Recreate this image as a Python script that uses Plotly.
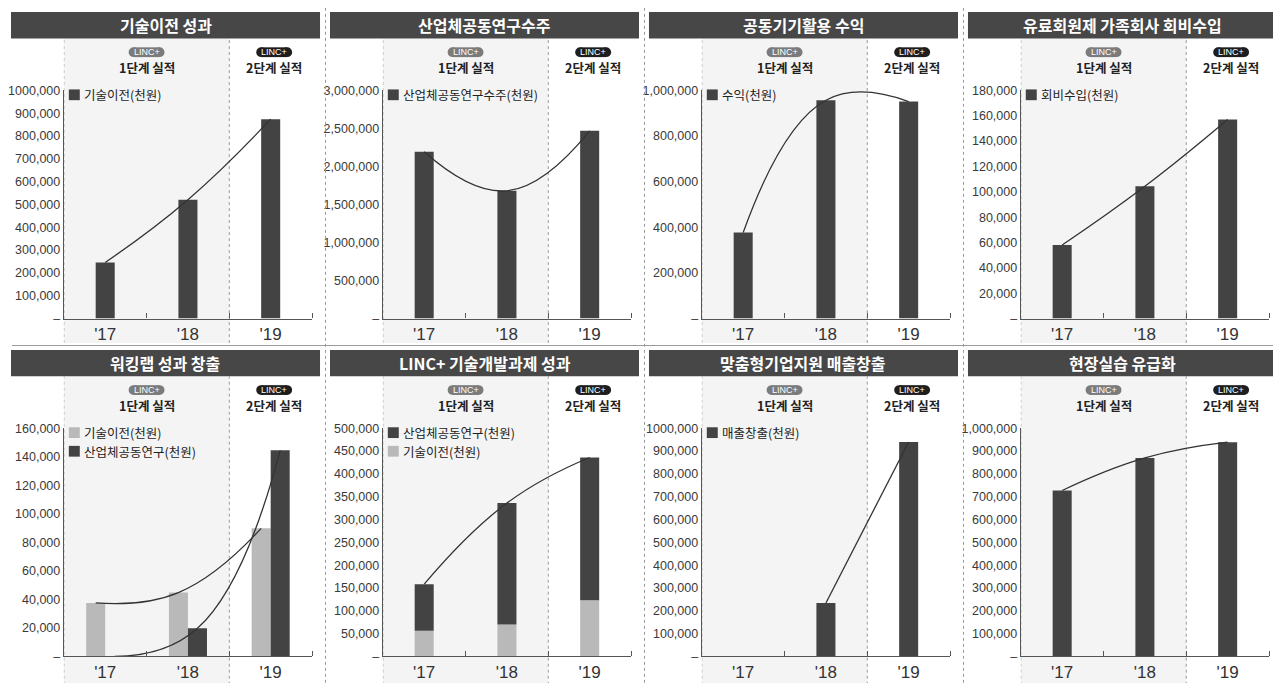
import plotly.graph_objects as go

# the page body keeps its 8px margin, so the figure fills the rest of the window
# and everything below is laid out in window pixels
WIN_W, WIN_H = 1281, 691
OFF = 8
W, H = WIN_W - 2 * OFF, WIN_H - 2 * OFF

YEARS = ["'17", "'18", "'19"]

TITLES = [
    "기술이전 성과",
    "산업체공동연구수주",
    "공동기기활용 수익",
    "유료회원제 가족회사 회비수입",
    "워킹랩 성과 창출",
    "LINC+ 기술개발과제 성과",
    "맞춤형기업지원 매출창출",
    "현장실습 유급화",
]

# values (천원)
tech_transfer = [246000, 521000, 874000]
joint_research_orders = [2194000, 1680000, 2468000]
equipment_income = [377000, 957000, 951000]
member_fees = [58100, 104400, 157100]
workinglab_transfer = [37500, 44800, 89800]
workinglab_research = [0, 19700, 144500]
linc_transfer = [56400, 70000, 122900]
linc_research = [102000, 266000, 313000]
custom_sales = [None, 234000, 940000]
field_training = [727000, 870000, 939000]

Y_MAX = [1000000, 3000000, 1000000, 180000, 160000, 500000, 1000000, 1000000]
Y_STEP = [100000, 500000, 200000, 20000, 20000, 50000, 100000, 100000]
Y_TOP_LABEL = ["1000,000", None, None, None, None, None, "1000,000", None]

DARK = "#434343"
LIGHT = "#b9b9b9"
LINE = "#333333"
AXIS = "#555555"
SHADE = "#f4f4f4"
BAR_W = 0.23

KR = "Noto Sans CJK KR"
NUM = "Liberation Sans, Arial, sans-serif"

# series per panel: (legend name, values, colour)
PANELS = [
    dict(mode="single", series=[("기술이전(천원)", tech_transfer, DARK)]),
    dict(mode="single", series=[("산업체공동연구수주(천원)", joint_research_orders, DARK)]),
    dict(mode="single", series=[("수익(천원)", equipment_income, DARK)]),
    dict(mode="single", series=[("회비수입(천원)", member_fees, DARK)]),
    dict(mode="group", series=[("기술이전(천원)", workinglab_transfer, LIGHT),
                               ("산업체공동연구(천원)", workinglab_research, DARK)]),
    dict(mode="stack", series=[("산업체공동연구(천원)", linc_research, DARK),
                               ("기술이전(천원)", linc_transfer, LIGHT)]),
    dict(mode="single", series=[("매출창출(천원)", custom_sales, DARK)]),
    dict(mode="single", series=[], bars=[field_training]),
]


def px(x):
    return (x - OFF) / W


def py(y):
    return 1 - (y - OFF) / H


fig = go.Figure()
shapes = []
annotations = []
spline = dict(shape="spline", smoothing=1.3, color=LINE, width=1.3)
idx = [0, 1, 2]

for i, panel in enumerate(PANELS):
    r, c = divmod(i, 4)
    xo, yo = 320 * c, 345 * r
    n = "" if i == 0 else str(i + 1)
    xa, ya = "x" + n, "y" + n

    if panel["mode"] == "single":
        vals = panel["series"][0][1] if panel["series"] else panel["bars"][0]
        fig.add_trace(go.Bar(x=idx, y=vals, width=BAR_W, offset=-BAR_W / 2,
                             marker=dict(color=DARK, line_width=0),
                             xaxis=xa, yaxis=ya, showlegend=False))
        fig.add_trace(go.Scatter(x=idx, y=vals, mode="lines", line=spline,
                                 xaxis=xa, yaxis=ya, showlegend=False,
                                 hoverinfo="skip"))
    elif panel["mode"] == "group":
        for k, (name, vals, col) in enumerate(panel["series"]):
            off = -BAR_W if k == 0 else 0
            fig.add_trace(go.Bar(x=idx, y=vals, width=BAR_W, offset=off,
                                 marker=dict(color=col, line_width=0), name=name,
                                 xaxis=xa, yaxis=ya, showlegend=False))
            fig.add_trace(go.Scatter(x=[v + off + BAR_W / 2 for v in idx], y=vals,
                                     mode="lines", line=spline, xaxis=xa, yaxis=ya,
                                     showlegend=False, hoverinfo="skip"))
    else:
        top_name, top_vals, top_col = panel["series"][0]
        bot_name, bot_vals, bot_col = panel["series"][1]
        fig.add_trace(go.Bar(x=idx, y=bot_vals, width=BAR_W, offset=-BAR_W / 2,
                             marker=dict(color=bot_col, line_width=0), name=bot_name,
                             xaxis=xa, yaxis=ya, showlegend=False))
        fig.add_trace(go.Bar(x=idx, y=top_vals, base=bot_vals, width=BAR_W,
                             offset=-BAR_W / 2, marker=dict(color=top_col, line_width=0),
                             name=top_name, xaxis=xa, yaxis=ya, showlegend=False))
        totals = [a + b for a, b in zip(bot_vals, top_vals)]
        fig.add_trace(go.Scatter(x=idx, y=totals, mode="lines", line=spline,
                                 xaxis=xa, yaxis=ya, showlegend=False,
                                 hoverinfo="skip"))

    # axes
    ticks = list(range(0, Y_MAX[i] + 1, Y_STEP[i]))
    labels = ["–" if v == 0 else f"{v:,}" for v in ticks]
    if Y_TOP_LABEL[i]:
        labels[-1] = Y_TOP_LABEL[i]

    fig.update_layout(**{
        "xaxis" + n: dict(
            domain=[px(xo + 60), px(xo + 309)], anchor=ya, range=[-0.5, 2.5],
            tickvals=idx, ticktext=YEARS, ticks="", showgrid=False, zeroline=False,
            showline=True, linecolor=AXIS, linewidth=1.2,
            tickfont=dict(family=NUM, size=17, color="#333"),
            minor=dict(tick0=0.5, dtick=1, ticks="inside", ticklen=5,
                       tickcolor=AXIS, tickwidth=1.2, showgrid=False),
            fixedrange=True,
        ),
        "yaxis" + n: dict(
            domain=[py(yo + 318), py(yo + 85)], anchor=xa, range=[0, Y_MAX[i]],
            tickvals=ticks, ticktext=labels, ticks="", showgrid=False, zeroline=False,
            showline=True, linecolor=AXIS, linewidth=1.2,
            tickfont=dict(family=NUM, size=12.5, color="#3a3a3a"),
            fixedrange=True,
        ),
    })

    bottom = yo + (343 if r == 0 else 690)
    # 1단계 shaded band and dotted dividers
    shapes.append(dict(type="rect", xref=xa, yref="paper", x0=-0.5, x1=1.5,
                       y0=py(bottom), y1=py(yo + 32), fillcolor=SHADE,
                       line_width=0, layer="below"))
    for xv in (-0.5, 1.5):
        shapes.append(dict(type="line", xref=xa, yref="paper", x0=xv, x1=xv,
                           y0=py(bottom), y1=py(yo + 32),
                           line=dict(color="#9a9a9a", width=1, dash="dot"),
                           layer="below"))

    # title bar
    shapes.append(dict(type="rect", xref="paper", yref="paper",
                       x0=px(xo + 7), x1=px(xo + 317), y0=py(yo + 32), y1=py(yo + 5),
                       fillcolor="#474747", line_width=0))
    annotations.append(dict(x=px(xo + 162), y=py(yo + 18.5), xref="paper", yref="paper",
                            text="<b>" + TITLES[i] + "</b>", showarrow=False,
                            font=dict(family=KR, size=16, color="white"),
                            xanchor="center", yanchor="middle"))

    # LINC+ badges and stage labels
    for cx, col, stage in ((xo + 143, "#7b7b7b", "1단계 실적"),
                           (xo + 271, "#1e1e1e", "2단계 실적")):
        cy = yo + 46
        shapes.append(dict(type="rect", xref="paper", yref="paper",
                           x0=px(cx - 13), x1=px(cx + 13), y0=py(cy + 5), y1=py(cy - 5),
                           fillcolor=col, line_width=0))
        for ex in (cx - 13, cx + 13):
            shapes.append(dict(type="circle", xref="paper", yref="paper",
                               x0=px(ex - 5), x1=px(ex + 5), y0=py(cy + 5),
                               y1=py(cy - 5), fillcolor=col, line_width=0))
        annotations.append(dict(x=px(cx), y=py(cy), xref="paper", yref="paper",
                                text="LINC+", showarrow=False,
                                font=dict(family=NUM, size=9, color="white"),
                                xanchor="center", yanchor="middle"))
        annotations.append(dict(x=px(cx), y=py(yo + 62), xref="paper", yref="paper",
                                text="<b>" + stage + "</b>", showarrow=False,
                                font=dict(family=KR, size=12.5, color="#222"),
                                xanchor="center", yanchor="middle"))

    # legend swatches
    for k, (name, vals, col) in enumerate(panel["series"]):
        ly = yo + 84 + 19 * k
        shapes.append(dict(type="rect", xref="paper", yref="paper",
                           x0=px(xo + 65), x1=px(xo + 76), y0=py(ly + 11), y1=py(ly),
                           fillcolor=col, line_width=0))
        annotations.append(dict(x=px(xo + 78), y=py(ly + 5.5), xref="paper", yref="paper",
                                text=name, showarrow=False,
                                font=dict(family=KR, size=12.5, color="#222"),
                                xanchor="left", yanchor="middle"))

# panel separators, row rule
for k in range(3):
    xv = 322.5 + 320 * k
    shapes.append(dict(type="line", xref="paper", yref="paper", x0=px(xv), x1=px(xv),
                       y0=py(690), y1=py(0),
                       line=dict(color="#999", width=1, dash="dot")))
shapes.append(dict(type="line", xref="paper", yref="paper", x0=0, x1=1,
                   y0=py(345.5), y1=py(345.5), line=dict(color="#9a9a9a", width=1.2)))

fig.update_layout(
    width=W, height=H, autosize=False,
    margin=dict(l=0, r=0, t=0, b=0),
    paper_bgcolor="white", plot_bgcolor="rgba(0,0,0,0)",
    barmode="group", showlegend=False,
    shapes=shapes, annotations=annotations,
    font=dict(family=KR, color="#333"),
)

fig.write_html("out.html")
